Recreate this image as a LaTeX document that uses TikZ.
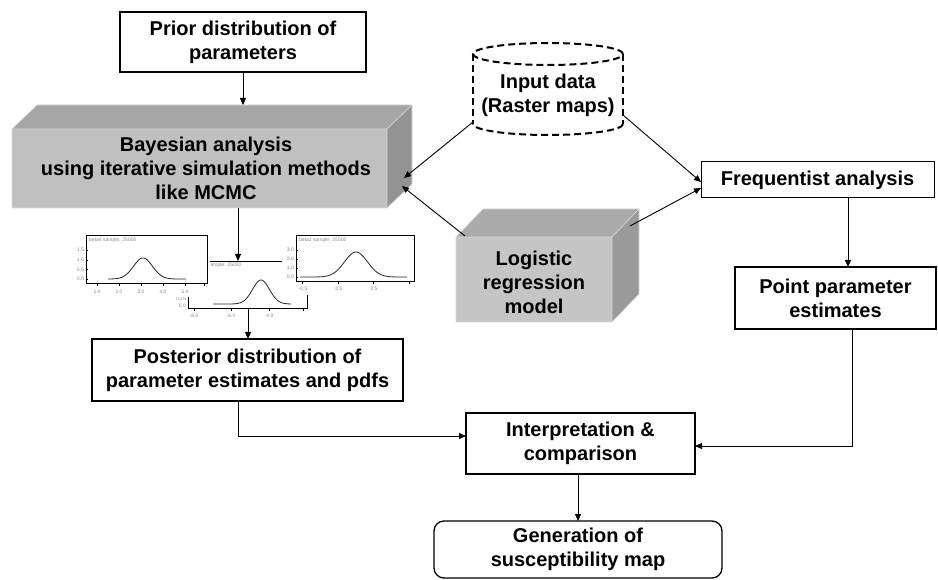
\documentclass[tikz,border=0pt]{standalone}
\usepackage{fontspec}
\setmainfont{Liberation Sans}
\usetikzlibrary{arrows.meta,calc}
\definecolor{bfront}{HTML}{C0C0C0}
\definecolor{btop}{HTML}{A6A6A6}
\definecolor{bside}{HTML}{939393}
\definecolor{bedge}{HTML}{D8D8D8}
\definecolor{plotgray}{HTML}{8A8A8A}
\begin{document}
\begin{tikzpicture}[x=1pt,y=-1pt,
  txt/.style={align=center, font=\bfseries\fontsize{20}{24}\selectfont, inner sep=0pt},
  box/.style={txt, draw, line width=1.8pt},
  thinbox/.style={txt, draw, line width=1pt},
  conn/.style={line width=0.9pt},
  arr/.style={conn, -{Triangle[length=7pt,width=6pt]}},
  face/.style={draw=bedge, line width=0.6pt},
  cylline/.style={line width=2pt, dash pattern=on 7pt off 4pt},
  tiny/.style={font=\fontsize{5}{5.5}\selectfont, text=plotgray, inner sep=0pt},
  frame/.style={line width=0.7pt},
  curve/.style={line width=0.8pt, black!85},
]
\useasboundingbox (0,0) rectangle (938,580);

% ---------- Prior box
\node[box, minimum width=246pt, minimum height=60pt] (prior) at (243,42) {Prior distribution of\\parameters};

% ---------- Bayesian 3D box
\fill[bfront] (12,129) rectangle (387,208);
\fill[btop] (12,129) -- (37,105) -- (412,105) -- (387,129) -- cycle;
\fill[bside] (387,129) -- (412,105) -- (412,184) -- (387,208) -- cycle;
\draw[face] (12,129) -- (37,105) -- (412,105) -- (412,184) -- (387,208) -- (12,208) -- cycle;
\draw[face] (12,129) -- (387,129) -- (412,105) (387,129) -- (387,208);
\node[txt] (bay) at (206,168) {Bayesian analysis\\using iterative simulation methods\\like MCMC};
\coordinate (baytop) at (243,105);
\coordinate (bayR1) at (404,178);
\coordinate (bayR2) at (402,186);
\coordinate (bayout) at (238,208);

% ---------- Input data cylinder
\draw[cylline] (548,54) ellipse [x radius=75pt, y radius=11pt];
\draw[cylline] (473,54) -- (473,124);
\draw[cylline] (623,54) -- (623,124);
\draw[cylline] (623,124) arc [start angle=0, end angle=-180, x radius=75pt, y radius=11pt];
\node[txt] (cyl) at (548,95) {Input data\\(Raster maps)};
\coordinate (cylL) at (473,122);
\coordinate (cylR) at (623,115);

% ---------- Logistic regression 3D box
\fill[bfront!92!white] (456,237) rectangle (612,322);
\fill[btop!94!white] (456,237) -- (483,209) -- (639,209) -- (612,237) -- cycle;
\fill[bside!94!white] (612,237) -- (639,209) -- (639,294) -- (612,322) -- cycle;
\draw[face] (456,237) -- (483,209) -- (639,209) -- (639,294) -- (612,322) -- (456,322) -- cycle;
\draw[face] (456,237) -- (612,237) -- (639,209) (612,237) -- (612,322);
\node[txt] (logit) at (534,282) {Logistic\\regression\\model};
\coordinate (logTL) at (465,236);
\coordinate (logR) at (630,226);

% ---------- Frequentist and point estimates
\node[thinbox, minimum width=233pt, minimum height=36pt] (freq) at (817.5,180) {Frequentist analysis};
\coordinate (freqIn1) at (701,182);
\coordinate (freqIn2) at (701,188);
\coordinate (freqOut) at (848,198);
\node[box, minimum width=201pt, minimum height=62pt] (pt) at (835.5,298) {Point parameter\\estimates};
\coordinate (ptIn) at (848,267);
\coordinate (ptOut) at (852,329);

% ---------- Posterior, interpretation, generation
\node[box, minimum width=311pt, minimum height=62pt] (post) at (247.5,370) {Posterior distribution of\\parameter estimates and pdfs};
\coordinate (postOut) at (238,401);
\coordinate (postIn) at (248,339);
\node[box, minimum width=229pt, minimum height=61pt] (interp) at (580.5,443.5) {Interpretation \&\\comparison};
\coordinate (interpL) at (466,436);
\coordinate (interpR) at (695,446);
\coordinate (interpOut) at (578,474);
\node[txt, draw, line width=1.3pt, rounded corners=10pt, minimum width=288pt, minimum height=57pt] (gen) at (578,549.5) {Generation of\\susceptibility map};
\coordinate (genIn) at (578,521);

% ---------- density plots: middle (behind)
\fill[white] (176,259) rectangle (312,322);
\draw[frame] (188,261) -- (307,261);
\node[tiny, anchor=west] (ttlB) at (208,265.5) {sample: 25000};
\node[tiny, anchor=east] (yB1) at (186,299) {0.25};
\node[tiny, anchor=east] (yB0) at (186,306) {0.0};
\draw[frame] (188,297) -- (188,308) -- (307,308) -- (307,295);
\foreach \t in {194,231,269,303} \draw[frame] (\t,308) -- (\t,311);
\node[tiny] (xB1) at (194,316) {-8.0};
\node[tiny] (xB2) at (231,316) {-6.0};
\node[tiny] (xB3) at (269,316) {-4.0};
\draw[curve] plot[domain=213:291, samples=80] (\x,{304-24*exp(-0.5*((\x-261)/8.5)^2)});
\coordinate (plotTop) at (238,261);
\coordinate (plotBot) at (248,308);

% ---------- left plot
\fill[white] (66,233) rectangle (210,297);
\draw[frame] (86,235) rectangle (207,283);
\node[tiny, anchor=west] (ttlA) at (89,240) {beta4 sample: 25000};
\node[tiny, anchor=east] (yA3) at (84,250) {1.5};
\node[tiny, anchor=east] (yA2) at (84,260) {1.0};
\node[tiny, anchor=east] (yA1) at (84,269.5) {0.5};
\node[tiny, anchor=east] (yA0) at (84,279) {0.0};
\foreach \t in {250,260,269.5,279} \draw[frame] (86,\t) -- (88,\t);
\foreach \t in {97,119,141,163,185,204} \draw[frame] (\t,283) -- (\t,286);
\node[tiny] (xA1) at (97,292) {1.0};
\node[tiny] (xA2) at (119,292) {2.0};
\node[tiny] (xA3) at (141,292) {3.0};
\node[tiny] (xA4) at (163,292) {4.0};
\node[tiny] (xA5) at (185,292) {5.0};
\draw[curve] plot[domain=108:186, samples=80] (\x,{279-21*exp(-0.5*((\x-143)/9.5)^2)});

% ---------- right plot
\fill[white] (282,233) rectangle (416,293);
\draw[frame] (296,235) rectangle (414,281);
\node[tiny, anchor=west] (ttlC) at (299,240) {beta2 sample: 25000};
\node[tiny, anchor=east] (yC3) at (294,250) {3.0};
\node[tiny, anchor=east] (yC2) at (294,259) {2.0};
\node[tiny, anchor=east] (yC1) at (294,268) {1.0};
\node[tiny, anchor=east] (yC0) at (294,277) {0.0};
\foreach \t in {250,259,268,277} \draw[frame] (296,\t) -- (298,\t);
\foreach \t in {302,338,373,409} \draw[frame] (\t,281) -- (\t,284);
\node[tiny] (xC1) at (303,288.5) {-0.5};
\node[tiny] (xC2) at (339,288.5) {0.0};
\node[tiny] (xC3) at (374,288.5) {0.5};
\draw[curve] plot[domain=300:407, samples=100] (\x,{277-25*exp(-0.5*((\x-356)/11.5)^2)});

% ---------- connectors
\draw[arr] (prior.south) -- (baytop);
\draw[arr] (cylL) -- (bayR1);
\draw[arr] (logTL) -- (bayR2);
\draw[arr] (cylR) -- (freqIn1);
\draw[arr] (logR) -- (freqIn2);
\draw[arr] (freqOut) -- (ptIn);
\draw[arr] (ptOut) |- (interpR);
\draw[arr] (bayout) -- (plotTop);
\draw[arr] (plotBot) -- (postIn);
\draw[arr] (postOut) |- (interpL);
\draw[arr] (interpOut) -- (genIn);
\end{tikzpicture}
\end{document}
